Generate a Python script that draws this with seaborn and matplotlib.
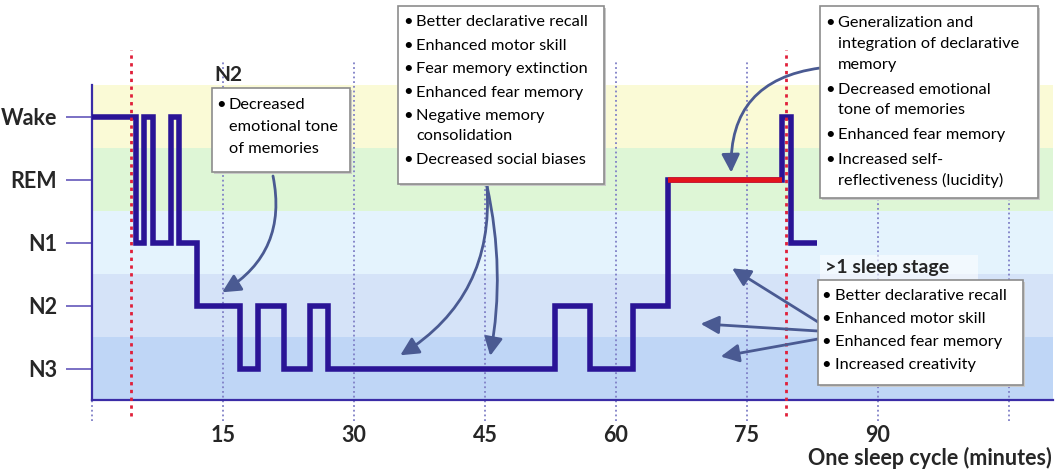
import numpy as np
import pandas as pd
import seaborn as sns
import matplotlib.pyplot as plt
from matplotlib.patches import Rectangle

# stage codes: N3=0, N2=1, N1=2, REM=3, Wake=4
stage_labels = ["N3", "N2", "N1", "REM", "Wake"]
band_colors = ["#bfd6f6", "#d5e3f8", "#e4f3fd", "#def6d6", "#fafad6"]

# hypnogram change points (minutes, stage)
hyp_minutes = [0, 5, 6, 7, 9, 10, 12, 17, 19, 22, 25, 27, 53, 57, 62, 66, 79, 80, 83]
hyp_stages = [4, 2, 4, 2, 4, 2, 1, 0, 1, 0, 1, 0, 1, 0, 1, 3, 4, 2, 2]
rem_minutes = [66, 79]
rem_stages = [3, 3]

grid_minutes = [0, 15, 30, 45, 60, 75, 90, 105]
tick_minutes = [15, 30, 45, 60, 75, 90]
boundary_minutes = [4.5, 79.5]

box1_items = ["Decreased\nemotional tone\nof memories"]
box2_items = ["Better declarative recall", "Enhanced motor skill", "Fear memory extinction",
              "Enhanced fear memory", "Negative memory\nconsolidation", "Decreased social biases"]
box3_items = ["Generalization and\nintegration of declarative\nmemory", "Decreased emotional\ntone of memories",
              "Enhanced fear memory", "Increased self-\nreflectiveness (lucidity)"]
box4_items = ["Better declarative recall", "Enhanced motor skill", "Enhanced fear memory",
              "Increased creativity"]

sns.set_style("white")
plt.rcParams['font.family'] = ['Lato', 'DejaVu Sans']

W, H = 1061, 475
fig = plt.figure(figsize=(W / 100, H / 100), dpi=100)
ax = fig.add_axes([92 / W, 75 / H, 961 / W, 315 / H])
ax.set_xlim(0, 110.05)
ax.set_ylim(-0.5, 4.5)

for i, c in enumerate(band_colors):
    ax.axhspan(i - 0.5, i + 0.5, color=c, lw=0, zorder=0)

grid_col = "#7f7fc6"
for m in grid_minutes:
    top = 4.87 if m > 0 else -0.5
    ax.plot([m, m], [-0.83, top], ls=(0, (1, 1.6)), color=grid_col, lw=1.3, clip_on=False, zorder=1)
for m in boundary_minutes:
    ax.plot([m, m], [-0.75, 5.05], ls=(0, (1.2, 1.6)), color="#e0203a", lw=2, clip_on=False, zorder=4)

hyp = pd.DataFrame({"minute": hyp_minutes, "stage": hyp_stages})
sns.lineplot(data=hyp, x="minute", y="stage", ax=ax, sort=False, estimator=None,
             drawstyle="steps-post", color="#2a1496", lw=4.0, zorder=3,
             solid_joinstyle="miter", solid_capstyle="butt")
rem = pd.DataFrame({"minute": rem_minutes, "stage": rem_stages})
sns.lineplot(data=rem, x="minute", y="stage", ax=ax, sort=False, estimator=None,
             color="#e3141c", lw=4.0, zorder=3.5, solid_capstyle="butt")

sns.despine(ax=ax, top=True, right=True)
for s in ["left", "bottom"]:
    ax.spines[s].set_color("#3a2ca6")
    ax.spines[s].set_linewidth(1.6)
ax.set_yticks(range(5))
ax.set_yticklabels(stage_labels, fontsize=15.5, fontweight="bold")
ax.tick_params(axis="y", length=19, width=1.4, color="#7a70c4", pad=6, left=True)
ax.set_xticks(tick_minutes)
ax.set_xticklabels([str(t) for t in tick_minutes], fontsize=15.5, fontweight="bold")
ax.tick_params(axis="x", length=0, pad=18)
ax.set_xlabel("One sleep cycle (minutes)", fontsize=15.5, fontweight="bold", loc="right", labelpad=1)
ax.xaxis.label.set_position((0.999, 0))
ax.set_ylabel("")

# overlay in image pixel coords for text boxes
ov = fig.add_axes([0, 0, 1, 1], zorder=5)
ov.set_xlim(0, W)
ov.set_ylim(H, 0)
ov.axis("off")
ov.patch.set_alpha(0)


def draw_box(x0, y0, x1, y1, items, first_y, item_gap, line_gap, bx, tx, fs=11.8):
    ov.add_patch(Rectangle((x0 + 2, y0 + 2), x1 - x0, y1 - y0, color="#c8c8c8", lw=0, zorder=1))
    ov.add_patch(Rectangle((x0, y0), x1 - x0, y1 - y0, facecolor="white", edgecolor="#8c8c8c", lw=1.2, zorder=2))
    y = first_y
    for item in items:
        lines = item.split("\n")
        ov.text(bx, y, "\u2022", fontsize=fs, va="center", ha="left", color="black", zorder=3)
        for j, ln in enumerate(lines):
            ov.text(tx, y + j * line_gap, ln, fontsize=fs, va="center", ha="left", color="black", zorder=3)
        y += (len(lines) - 1) * line_gap + item_gap


draw_box(212, 88, 350, 172, box1_items, 105, 22, 22, 216, 229)
draw_box(398, 6, 604, 184, box2_items, 22, 23.5, 20.5, 403, 416)
draw_box(820, 6, 1038, 198, box3_items, 23, 24.5, 21, 825, 838)
ov.add_patch(Rectangle((820, 255), 158, 27, facecolor="white", alpha=0.55, lw=0, zorder=1))
ov.text(825, 268, ">1 sleep stage", fontsize=14, fontweight="bold", va="center", ha="left", zorder=3)
draw_box(818, 280, 1023, 385, box4_items, 296, 23, 21, 821, 835)
ov.text(214, 75, "N2", fontsize=15, fontweight="bold", va="center", ha="left", zorder=3)

# arrows from boxes to hypnogram (heads in data coords, tails at box edges)
arrow_col = "#4a5a92"
astyle = "-|>,head_length=1.1,head_width=0.55"
arrows = [
    ((14.9, 1.21), (273, 176), "arc3,rad=-0.35"),
    ((35.3, 0.21), (487, 186), "arc3,rad=-0.3"),
    ((45.6, 0.20), (487, 186), "arc3,rad=-0.1"),
    ((73.2, 3.11), (820, 68), "arc3,rad=0.45"),
    ((73.3, 1.59), (818, 322), "arc3,rad=0"),
    ((69.7, 0.71), (818, 331), "arc3,rad=0"),
    ((72.0, 0.19), (818, 339), "arc3,rad=0"),
]
for head, tail, cs in arrows:
    ax.annotate("", xy=head, xycoords="data", xytext=tail, textcoords=ov.transData,
                arrowprops=dict(arrowstyle=astyle, color=arrow_col, lw=2, connectionstyle=cs,
                                shrinkA=0, shrinkB=0),
                annotation_clip=False, zorder=4)

fig.savefig("out.png", dpi=100)
